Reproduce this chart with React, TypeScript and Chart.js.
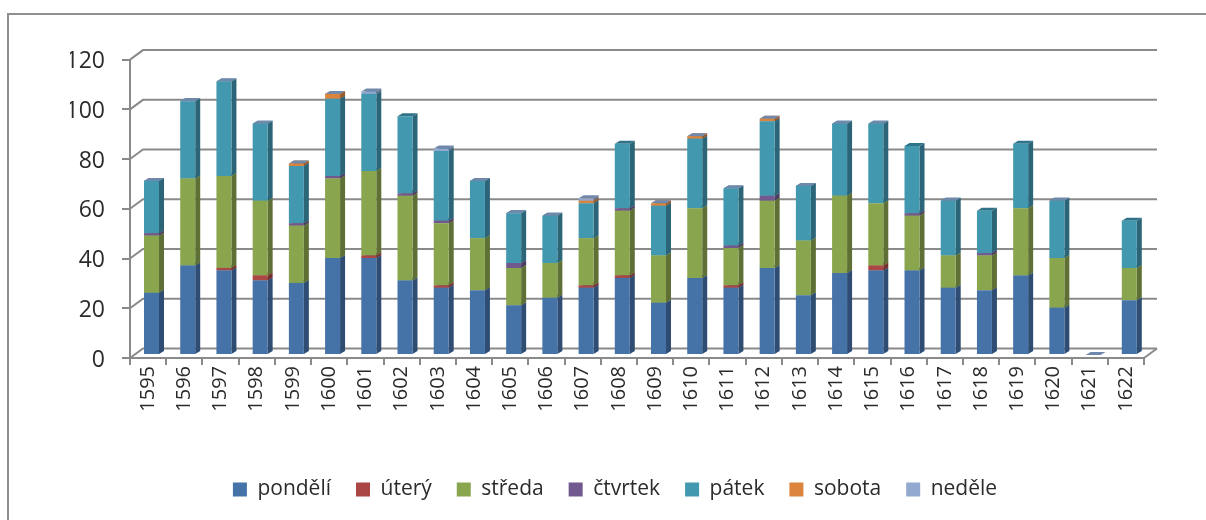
import React, { useEffect, useRef } from "react";
import { Chart, registerables } from "chart.js";

Chart.register(...registerables);

const years = ["1595","1596","1597","1598","1599","1600","1601","1602","1603","1604","1605","1606","1607","1608","1609","1610","1611","1612","1613","1614","1615","1616","1617","1618","1619","1620","1621","1622"];
const pondeli = [25,36,34,30,29,39,39,30,27,26,20,23,27,31,21,31,27,35,24,33,34,34,27,26,32,19,0,22];
const utery = [0,0,1,2,0,0,1,0,1,0,0,0,1,1,0,0,1,0,0,0,2,0,0,0,0,0,0,0];
const streda = [23,35,37,30,23,32,34,34,25,21,15,14,19,26,19,28,15,27,22,31,25,22,13,14,27,20,0,13];
const ctvrtek = [1,0,0,0,1,1,0,1,1,0,2,0,0,1,0,0,1,2,0,0,0,1,0,1,0,0,0,0];
const patek = [21,31,38,31,23,31,31,31,28,23,20,19,14,26,20,28,23,30,22,29,32,27,22,17,26,23,0,19];
const sobota = [0,0,0,0,1,2,0,0,0,0,0,0,1,0,1,1,0,1,0,0,0,0,0,0,0,0,0,0];
const nedele = [0,0,0,0,0,0,1,null,1,0,0,0,1,null,0,0,0,0,0,0,0,null,0,null,null,0,0,null];

const seriesNames = ["pondělí","úterý","středa","čtvrtek","pátek","sobota","neděle"];
const seriesValues = [pondeli, utery, streda, ctvrtek, patek, sobota, nedele];
const frontColors = ["#4572a7","#aa4643","#89a54e","#71588f","#4198af","#db843d","#93a9cf"];
const sideColors = ["#2f4d73","#772f2d","#5e7035","#4d3c62","#2c6578","#96592a","#65748e"];
const topColors = ["#3f6899","#9c403d","#7d9747","#674f82","#2f7388","#c97836","#7088ab"];

const AXIS = "#8a8a8a";
const TEXT = "#2b2b2b";
const FONT = "'Open Sans'";

const shift = { x: 3.4, y: -3 };
const depth = { x: 5, y: -3 };
const wall = { x: 13, y: -9.5 };

const scene = {
  id: "scene",
  afterLayout(chart: any) {
    chart.legend.left += 16;
  },
  beforeDraw(chart: any) {
    const { ctx, width, height } = chart;
    ctx.save();
    ctx.fillStyle = "#ffffff";
    ctx.fillRect(0, 0, width, height);
    ctx.strokeStyle = "#8f8f8f";
    ctx.lineWidth = 2;
    ctx.beginPath();
    ctx.moveTo(8, height);
    ctx.lineTo(8, 14);
    ctx.lineTo(width, 14);
    ctx.stroke();
    ctx.restore();
  },
  beforeDatasetsDraw(chart: any) {
    const { ctx, chartArea, scales } = chart;
    ctx.save();
    ctx.strokeStyle = AXIS;
    ctx.lineWidth = 2;
    scales.y.ticks.forEach((t: any) => {
      const py = scales.y.getPixelForValue(t.value);
      ctx.beginPath();
      ctx.moveTo(chartArea.left, py);
      ctx.lineTo(chartArea.left + wall.x, py + wall.y);
      ctx.lineTo(chartArea.right + wall.x, py + wall.y);
      ctx.stroke();
    });
    ctx.beginPath();
    ctx.moveTo(chartArea.right, chartArea.bottom);
    ctx.lineTo(chartArea.right + wall.x, chartArea.bottom + wall.y);
    ctx.stroke();
    ctx.restore();

    ctx.save();
    ctx.translate(shift.x, shift.y);
    seriesValues.forEach((values, d) => {
      const meta = chart.getDatasetMeta(d);
      meta.data.forEach((bar: any, i: number) => {
        const v = values[i];
        if (v === null || v === undefined) return;
        const last = d === seriesValues.length - 1;
        if (v === 0 && !last) return;
        const L = bar.x - bar.width / 2;
        const R = bar.x + bar.width / 2;
        if (v > 0) {
          ctx.fillStyle = sideColors[d];
          ctx.beginPath();
          ctx.moveTo(R, bar.y);
          ctx.lineTo(R + depth.x, bar.y + depth.y);
          ctx.lineTo(R + depth.x, bar.base + depth.y);
          ctx.lineTo(R, bar.base);
          ctx.closePath();
          ctx.fill();
        }
        ctx.fillStyle = topColors[d];
        ctx.beginPath();
        ctx.moveTo(L, bar.y);
        ctx.lineTo(L + depth.x, bar.y + depth.y);
        ctx.lineTo(R + depth.x, bar.y + depth.y);
        ctx.lineTo(R, bar.y);
        ctx.closePath();
        ctx.fill();
      });
    });
  },
  afterDatasetsDraw(chart: any) {
    chart.ctx.restore();
  },
};

export default function App() {
  const ref = useRef<HTMLCanvasElement>(null);
  useEffect(() => {
    if (!ref.current) return;
    const chart = new Chart(ref.current, {
      type: "bar",
      plugins: [scene],
      data: {
        labels: years,
        datasets: seriesNames.map((name, d) => ({
          label: name,
          data: seriesValues[d] as any,
          backgroundColor: frontColors[d],
          borderWidth: 0,
          clip: false as any,
          categoryPercentage: 1,
          barPercentage: 0.414,
        })),
      },
      options: {
        animation: false,
        responsive: false,
        layout: { padding: { left: 70, right: 62, top: 59.6, bottom: 10 } },
        plugins: {
          tooltip: { enabled: false },
          legend: {
            position: "bottom",
            labels: {
              boxWidth: 14,
              boxHeight: 14,
              padding: 25,
              color: TEXT,
              font: { family: FONT, size: 21 },
            },
          },
        },
        scales: {
          x: {
            stacked: true,
            afterFit: (s: any) => { s.height = 96; },
            border: { color: AXIS, width: 2 },
            grid: { display: true, drawOnChartArea: false, drawTicks: true, tickLength: 7, color: AXIS, lineWidth: 2 },
            ticks: { color: TEXT, font: { family: FONT, size: 20 }, minRotation: 90, maxRotation: 90, padding: 1, autoSkip: false },
          },
          y: {
            stacked: true,
            min: 0,
            max: 120,
            afterFit: (s: any) => { s.width = 60; },
            border: { color: AXIS, width: 2 },
            grid: { display: true, drawOnChartArea: false, drawTicks: true, tickLength: 8, color: AXIS, lineWidth: 2 },
            ticks: { stepSize: 20, color: TEXT, font: { family: FONT, size: 23 }, padding: 17, labelOffset: 2 },
          },
        },
      },
    });
    return () => chart.destroy();
  }, []);
  return (
    <div style={{ position: "fixed", left: 0, top: 0, width: 1206, height: 520 }}>
      <canvas ref={ref} width={1206} height={520} style={{ display: "block", width: 1206, height: 520, filter: "blur(0.5px)" }} />
    </div>
  );
}
